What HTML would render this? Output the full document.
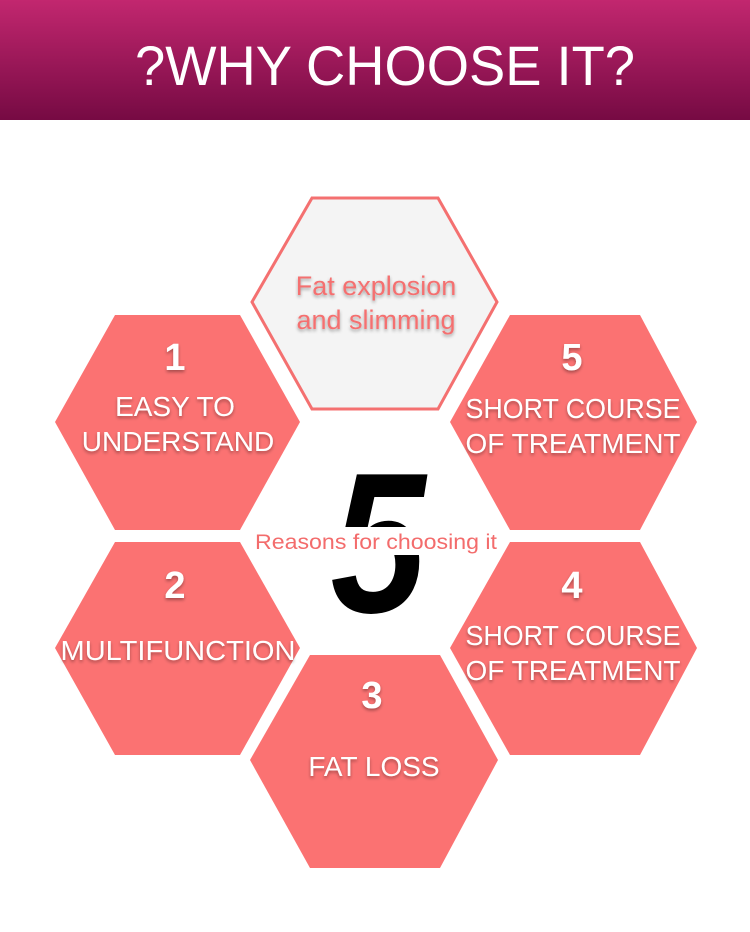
<!DOCTYPE html>
<html><head><meta charset="utf-8"><style>
body{margin:0;width:750px;height:927px;background:#fff;overflow:hidden}
</style></head><body>
<svg width="750" height="927" viewBox="0 0 750 927" xmlns="http://www.w3.org/2000/svg" font-family="Liberation Sans, sans-serif">
<defs>
<linearGradient id="g" x1="0" y1="0" x2="0" y2="1">
<stop offset="0" stop-color="#c2276f"/><stop offset="1" stop-color="#760a43"/>
</linearGradient>
<filter id="sh" x="-10%" y="-10%" width="120%" height="130%"><feDropShadow dx="0" dy="2" stdDeviation="1.5" flood-color="#000" flood-opacity="0.35"/></filter>
</defs>
<rect x="0" y="0" width="750" height="120" fill="url(#g)"/>
<text x="385" y="85" text-anchor="middle" font-size="56" fill="#fff" textLength="500" lengthAdjust="spacingAndGlyphs">?WHY CHOOSE IT?</text>

<polygon points="252,302 312,198 438,198 497,302 438,409 312,409" fill="#f4f4f4" stroke="#f47070" stroke-width="3"/>
<g fill="#fb7272">
<polygon points="55,422 115,315 240,315 300,422 240,530 115,530"/>
<polygon points="450,422 510,315 640,315 697,422 640,530 510,530"/>
<polygon points="55,648 115,542 240,542 300,648 240,755 115,755"/>
<polygon points="450,648 510,542 640,542 697,648 640,755 510,755"/>
<polygon points="250,760 310,655 440,655 498,760 440,868 310,868"/>
</g>
<text x="378" y="612" text-anchor="middle" font-size="200" font-weight="bold" font-style="italic" fill="#000" textLength="95" lengthAdjust="spacingAndGlyphs">5</text>
<rect x="250" y="527" width="250" height="28" fill="#fff"/>
<text x="376" y="549" text-anchor="middle" font-size="21" fill="#f36c6c" textLength="242" lengthAdjust="spacingAndGlyphs">Reasons for choosing it</text>

<g fill="#f47070" font-size="27" text-anchor="middle" filter="url(#sh)">
<text x="376" y="295">Fat explosion</text>
<text x="376" y="329">and slimming</text>
</g>
<g fill="#fff" text-anchor="middle" filter="url(#sh)">
<g font-size="38" font-weight="bold">
<text x="175" y="370">1</text>
<text x="572" y="370">5</text>
<text x="175" y="598">2</text>
<text x="572" y="598">4</text>
<text x="372" y="708">3</text>
</g>
<g font-size="28">
<text x="175" y="416">EASY TO</text>
<text x="178" y="451">UNDERSTAND</text>
<text x="573" y="418" textLength="215" lengthAdjust="spacingAndGlyphs">SHORT COURSE</text>
<text x="573" y="453" textLength="215" lengthAdjust="spacingAndGlyphs">OF TREATMENT</text>
<text x="178" y="660" textLength="235" lengthAdjust="spacingAndGlyphs">MULTIFUNCTION</text>
<text x="573" y="645" textLength="215" lengthAdjust="spacingAndGlyphs">SHORT COURSE</text>
<text x="573" y="680" textLength="215" lengthAdjust="spacingAndGlyphs">OF TREATMENT</text>
<text x="374" y="776">FAT LOSS</text>
</g>
</g>
</svg>
</body></html>
